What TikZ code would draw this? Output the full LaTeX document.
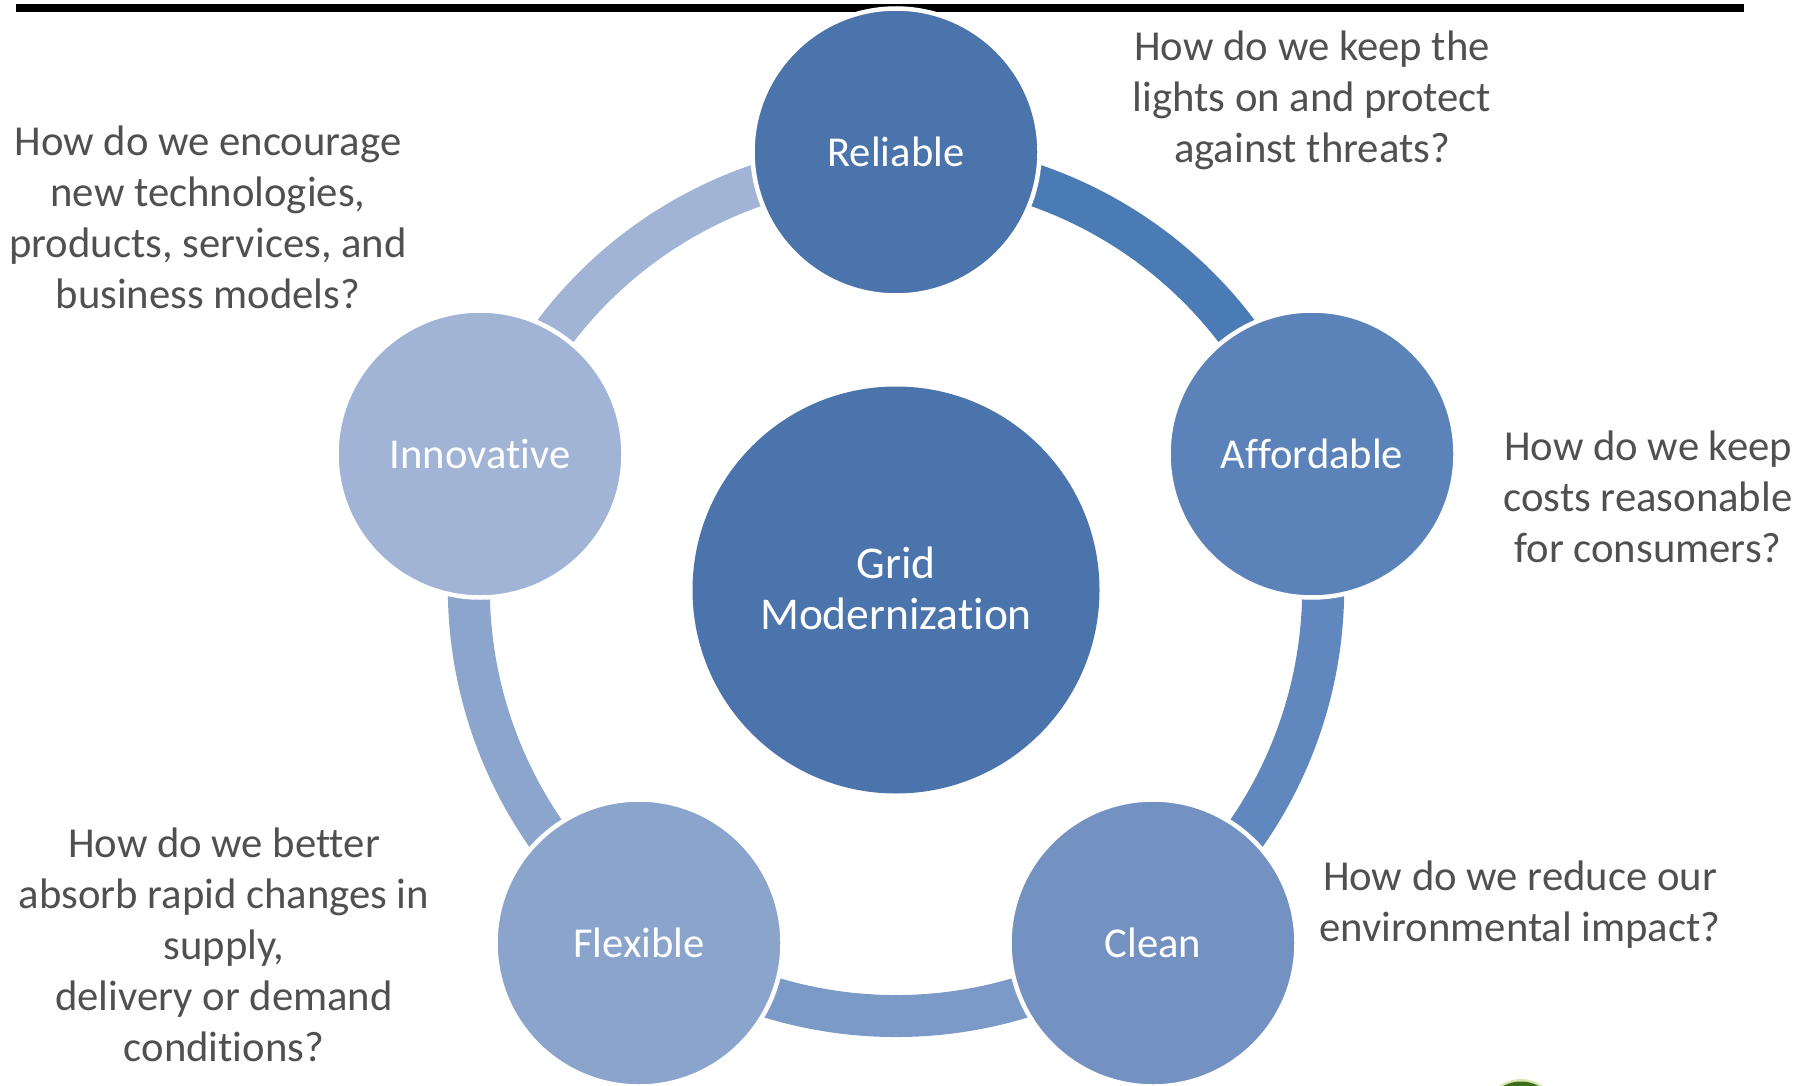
\documentclass[tikz,border=0pt]{standalone}
\usepackage{fontspec}
\setmainfont[Ligatures=CommonOff]{Carlito}
\usetikzlibrary{backgrounds,calc}
\definecolor{cRel}{HTML}{4A74AB}
\definecolor{cAff}{HTML}{5B83B9}
\definecolor{cCle}{HTML}{7392C1}
\definecolor{cFle}{HTML}{8BA4CC}
\definecolor{cInn}{HTML}{A1B4D6}
\definecolor{aOne}{HTML}{4B7BB5}
\definecolor{aTwo}{HTML}{6088BE}
\definecolor{aThr}{HTML}{7C9AC7}
\definecolor{aFou}{HTML}{8CA5CC}
\definecolor{aFiv}{HTML}{A1B4D6}
\definecolor{askText}{HTML}{505050}
\definecolor{blob}{HTML}{3C6E1E}
\definecolor{blobEdge}{HTML}{DDE6B0}
\tikzset{
  x=1pt,y=1pt,
  hub/.style={circle,draw=white,line width=4.5pt,minimum size=287pt,inner sep=0pt,text=white,align=center,
    font=\fontsize{42.6}{51}\selectfont},
  core/.style={hub,minimum size=407pt,draw=none,font=\fontsize{45.5}{51}\selectfont},
  ask/.style={inner sep=0pt,align=center,text=askText,font=\fontsize{42.7}{51}\selectfont},
  ringarc/.style={line width=42pt,bend left=36,looseness=.94},
}
\begin{document}
\begin{tikzpicture}
\useasboundingbox (0,0) rectangle (1806,-1086);
\node[core,fill=cRel] (grid) at (896,-590) {Grid\\Modernization\rule[-4pt]{0pt}{4pt}};
\node[hub,fill=cRel] (rel) at (896,-152) {Reliable};
\node[hub,fill=cAff] (aff) at (1312,-454) {Affordable};
\node[hub,fill=cCle] (cle) at (1153,-943) {Clean};
\node[hub,fill=cFle] (fle) at (639,-943) {Flexible};
\node[hub,fill=cInn] (inn) at (480,-454) {Innovative};
\node[ask] (q1) at (1312,-100.5) {How do we keep the\\lights on and protect\\against threats?};
\node[ask] (q2) at (1648,-497) {How do we keep\\costs reasonable\\for consumers?};
\node[ask] (q3) at (1520,-904.5) {How do we reduce our\\environmental impact?};
\node[ask] (q4) at (224,-945) {How do we better\\absorb rapid changes in\\supply,\\delivery or demand\\conditions?};
\node[ask] (q5) at (208,-217) {How do we encourage\\new technologies,\\products, services, and\\business models?};
\coordinate (rr) at ($(grid.center)!.977!(rel.center)$);
\coordinate (ra) at ($(grid.center)!.977!(aff.center)$);
\coordinate (rc) at ($(grid.center)!.977!(cle.center)$);
\coordinate (rf) at ($(grid.center)!.977!(fle.center)$);
\coordinate (ri) at ($(grid.center)!.977!(inn.center)$);
\begin{scope}[on background layer]
  \fill[black] (16,-4) rectangle (1744,-12.5);
  \draw[ringarc,aOne] (rr) to (ra);
  \draw[ringarc,aTwo] (ra) to (rc);
  \draw[ringarc,aThr] (rc) to (rf);
  \draw[ringarc,aFou] (rf) to (ri);
  \draw[ringarc,aFiv] (ri) to (rr);
  \begin{scope}
    \clip (1480,-1070) rectangle (1560,-1086);
    \fill[blobEdge] (1521,-1117.5) circle (38.5);
    \fill[blob] (1521,-1118.5) circle (37);
  \end{scope}
\end{scope}
\end{tikzpicture}
\end{document}
